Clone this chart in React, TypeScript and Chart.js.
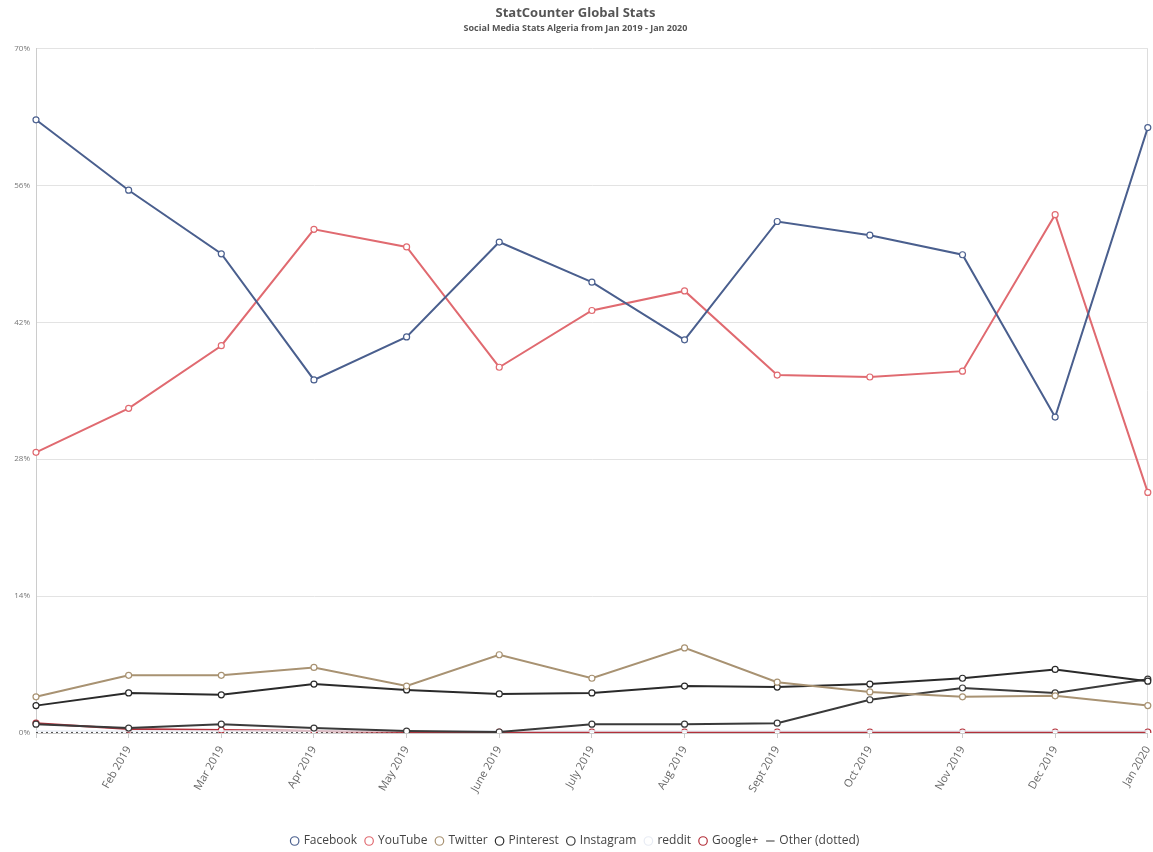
import React, { useEffect, useRef } from "react";
import { Chart, registerables } from "chart.js";

Chart.register(...registerables);

const months = [
  "Jan 2019", "Feb 2019", "Mar 2019", "Apr 2019", "May 2019", "June 2019", "July 2019",
  "Aug 2019", "Sept 2019", "Oct 2019", "Nov 2019", "Dec 2019", "Jan 2020",
];
const facebook = [62.7, 55.5, 49.0, 36.1, 40.5, 50.2, 46.1, 40.2, 52.3, 50.9, 48.9, 32.3, 61.9];
const youtube = [28.7, 33.2, 39.6, 51.5, 49.7, 37.4, 43.2, 45.2, 36.6, 36.4, 37.0, 53.0, 24.6];
const twitter = [3.7, 5.9, 5.9, 6.7, 4.8, 8.0, 5.6, 8.7, 5.2, 4.2, 3.7, 3.8, 2.8];
const pinterest = [2.8, 4.1, 3.9, 5.0, 4.4, 4.0, 4.1, 4.8, 4.7, 5.0, 5.6, 6.5, 5.3];
const instagram = [0.9, 0.5, 0.9, 0.5, 0.2, 0.1, 0.9, 0.9, 1.0, 3.4, 4.6, 4.1, 5.5];
const reddit = [0.2, 0.2, 0.2, 0.2, 0.2, 0.2, 0.2, 0.2, 0.2, 0.2, 0.2, 0.2, 0.2];
const googlePlus = [1.0, 0.4, 0.3, 0.2, 0.1, 0.1, 0.1, 0.1, 0.1, 0.1, 0.1, 0.1, 0.1];
const other = [0.05, 0.05, 0.05, 0.05, 0.05, 0.05, 0.05, 0.05, 0.05, 0.05, 0.05, 0.05, 0.05];
const yTicks = [0, 14, 28, 42, 56, 70];

const FONT = "'Open Sans', 'DejaVu Sans', sans-serif";

function series(label: string, data: number[], color: string, extra: any = {}) {
  return {
    label,
    data,
    borderColor: color,
    backgroundColor: "#ffffff",
    pointBackgroundColor: "#ffffff",
    pointBorderColor: color,
    pointBorderWidth: 1.2,
    pointRadius: 3,
    borderWidth: 2,
    tension: 0,
    ...extra,
  };
}

const legendShift = {
  id: "legendShift",
  afterLayout(chart: any) {
    const lg = chart.legend;
    if (lg) {
      lg.top += 5;
      lg.bottom += 5;
    }
  },
};

export default function App() {
  const ref = useRef<HTMLCanvasElement>(null);
  useEffect(() => {
    document.body.style.margin = "0";
    const ctx = ref.current!.getContext("2d")!;
    const last = months.length - 1;
    const chart = new Chart(ctx, {
      type: "line",
      data: {
        labels: months,
        datasets: [
          series("Facebook", facebook, "#4a5f8e"),
          series("YouTube", youtube, "#e06a70"),
          series("Twitter", twitter, "#a89272"),
          series("Pinterest", pinterest, "#2a2a2a"),
          series("Instagram", instagram, "#3a3a3a"),
          series("reddit", reddit, "#e8ecf4", { pointRadius: 0, borderWidth: 1.5 }),
          series("Google+", googlePlus, "#b3303a"),
          series("Other (dotted)", other, "#555555", {
            borderDash: [2, 3],
            borderWidth: 1.5,
            pointRadius: 0,
            pointStyle: "line",
          }),
        ],
      },
      plugins: [legendShift],
      options: {
        responsive: false,
        animation: false,
        layout: { padding: { left: 0, right: 2, top: 0, bottom: 0 } },
        plugins: {
          title: {
            display: true,
            text: "StatCounter Global Stats",
            color: "#555",
            font: { family: FONT, size: 13, weight: "bold" },
            padding: { top: 5, bottom: 2 },
          },
          subtitle: {
            display: true,
            text: "Social Media Stats Algeria from Jan 2019 - Jan 2020",
            color: "#555",
            font: { family: FONT, size: 9, weight: "bold" },
            padding: { top: 0, bottom: 15 },
          },
          legend: {
            position: "bottom",
            labels: {
              usePointStyle: true,
              boxWidth: 6,
              boxHeight: 6,
              padding: 9,
              color: "#444",
              font: { family: FONT, size: 12 },
            },
          },
          tooltip: { enabled: false },
        },
        scales: {
          x: {
            grid: {
              color: (c: any) => (c.index === last ? "#dddddd" : "rgba(0,0,0,0)"),
              tickColor: "#cccccc",
              tickLength: 5,
              drawTicks: true,
            },
            border: { color: "#cccccc" },
            ticks: {
              maxRotation: 60,
              minRotation: 60,
              autoSkip: false,
              padding: 6,
              color: "#666",
              font: { family: FONT, size: 11 },
              callback: (_v: any, i: number) => (i === 0 ? "" : months[i]),
            },
            afterFit: (s: any) => {
              s.height = 88;
              s.paddingRight = 0;
              s.paddingLeft = 0;
            },
          },
          y: {
            min: 0,
            max: 70,
            afterBuildTicks: (s: any) => {
              s.ticks = yTicks.map((v) => ({ value: v }));
            },
            grid: { color: "#e3e3e3", drawTicks: false },
            border: { color: "#cccccc" },
            ticks: {
              color: "#777",
              padding: 6,
              font: { family: FONT, size: 8 },
              callback: (v: any) => v + "%",
            },
            afterFit: (s: any) => {
              s.width = 36;
              s.paddingTop = 0;
              s.paddingBottom = 0;
            },
          },
        },
      },
    });
    return () => chart.destroy();
  }, []);
  return (
    <div style={{ width: 1153, height: 852, background: "#fff" }}>
      <canvas ref={ref} width={1153} height={852} />
    </div>
  );
}
